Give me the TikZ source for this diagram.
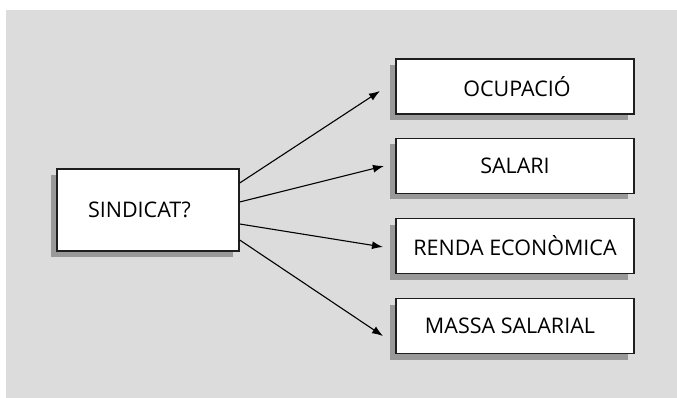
\documentclass[tikz,border=0pt]{standalone}
\usepackage{fontspec}
\setmainfont{Open Sans}
\usetikzlibrary{arrows.meta,shadows}
\definecolor{bg}{HTML}{DCDCDC}
\definecolor{shd}{HTML}{999999}
\definecolor{edge}{HTML}{1E1E1E}
\begin{document}
\begin{tikzpicture}[x=1pt,y=-1pt,
  box/.style={draw=edge,line width=1.4pt,fill=white,minimum width=238pt,minimum height=55pt,
    inner sep=0pt,font=\fontsize{21.5}{25}\selectfont,
    drop shadow={shadow xshift=-6pt,shadow yshift=-6pt,fill=shd,opacity=1}},
  arr/.style={line width=1.1pt,draw=black,-{Latex[length=11pt,width=8pt]}}]
\useasboundingbox (0,0) rectangle (677,398);
\fill[white] (0,0) rectangle (677,398);
\fill[bg] (6,10) rectangle (677,398);
\node[box,minimum width=182pt,minimum height=82pt] (s) at (148,210) {\hspace*{-17pt}SINDICAT?};
\node[box] (o) at (515,86.5) {\hspace*{4pt}OCUPACIÓ};
\node[box] (sa) at (515,166) {SALARI};
\node[box] (r) at (515,246) {RENDA ECONÒMICA};
\node[box] (m) at (515,326) {\hspace*{-10pt}MASSA SALARIAL};
\coordinate (t1) at (380,91);
\coordinate (t2) at (384,166);
\coordinate (t3) at (383,247);
\coordinate (t4) at (383,336);
\draw[arr] ([yshift=27pt]s.east) -- (t1);
\draw[arr] ([yshift=8pt]s.east) -- (t2);
\draw[arr] ([yshift=-14pt]s.east) -- (t3);
\draw[arr] ([yshift=-30pt]s.east) -- (t4);
\end{tikzpicture}
\end{document}
